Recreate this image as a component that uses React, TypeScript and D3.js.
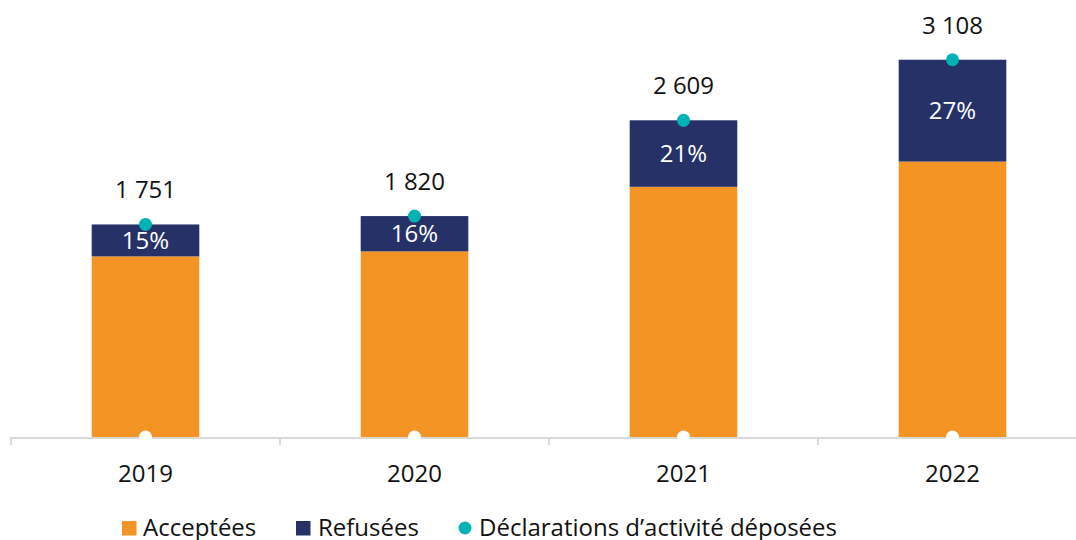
import { useMemo } from "react";
import * as d3 from "d3";

const years = ["2019", "2020", "2021", "2022"];
const acceptees = [1488, 1529, 2061, 2269];
const refusees = [263, 291, 548, 839];

const ORANGE = "#F39425";
const NAVY = "#263167";
const TEAL = "#00B2B3";
const AXIS = "#D9D9D9";
const FONT = "'Open Sans', 'Noto Sans', sans-serif";

const width = 1076;
const height = 540;

export default function App() {
  const totals = years.map((_, i) => acceptees[i] + refusees[i]);

  const x = useMemo(
    () => d3.scaleBand<string>().domain(years).range([11, 1087]).paddingInner(0.6).paddingOuter(0.3),
    []
  );
  const y = useMemo(() => d3.scaleLinear().domain([0, 3600]).range([437, 0]), []);

  const fmt = (v: number) => d3.format(",")(v).replace(/,/g, " ");
  const step = x.step();
  const bw = x.bandwidth();
  const base = y(0);

  // band boundaries for tick marks
  const tickXs = d3.range(years.length + 1).map((i) => 11 + i * step);

  return (
    <svg
      width={width}
      height={height}
      style={{ position: "absolute", left: 0, top: 0, display: "block" }}
      fontFamily={FONT}
    >
      <rect width={width} height={height} fill="#fff" />

      {years.map((yr, i) => {
        const x0 = x(yr)!;
        const cx = x0 + bw / 2;
        const yTop = y(totals[i]);
        const yMid = y(acceptees[i]);
        const pct = Math.round((refusees[i] / totals[i]) * 100);
        return (
          <g key={yr}>
            <rect x={x0} y={yMid} width={bw} height={base - yMid} fill={ORANGE} />
            <rect x={x0} y={yTop} width={bw} height={yMid - yTop} fill={NAVY} />
            <text
              x={cx}
              y={(yTop + yMid) / 2}
              dy="0.35em"
              textAnchor="middle"
              fill="#fff"
              fontSize={24}
            >
              {pct}%
            </text>
            <text x={cx} y={yTop - 26} textAnchor="middle" fill="#111" fontSize={24}>
              {fmt(totals[i])}
            </text>
          </g>
        );
      })}

      {/* axis */}
      <line x1={11} x2={width} y1={base + 1} y2={base + 1} stroke={AXIS} strokeWidth={2} />
      {tickXs.map((tx) => (
        <line key={tx} x1={tx} x2={tx} y1={base} y2={base + 8} stroke={AXIS} strokeWidth={2} />
      ))}
      {years.map((yr) => (
        <text
          key={yr}
          x={x(yr)! + bw / 2}
          y={482}
          textAnchor="middle"
          fill="#111"
          fontSize={24}
        >
          {yr}
        </text>
      ))}

      {/* dots */}
      {years.map((yr, i) => {
        const cx = x(yr)! + bw / 2;
        return (
          <g key={yr}>
            <circle cx={cx} cy={base} r={6.5} fill="#fff" />
            <circle cx={cx} cy={y(totals[i])} r={6.5} fill={TEAL} />
          </g>
        );
      })}

      {/* legend */}
      <g fontSize={24} fill="#111">
        <rect x={122} y={521} width={14.5} height={14.5} fill={ORANGE} />
        <text x={143} y={536}>Acceptées</text>
        <rect x={296} y={521} width={14.5} height={14.5} fill={NAVY} />
        <text x={318} y={536}>Refusées</text>
        <circle cx={465} cy={528} r={6.5} fill={TEAL} />
        <text x={479} y={536}>Déclarations d’activité déposées</text>
      </g>
    </svg>
  );
}
